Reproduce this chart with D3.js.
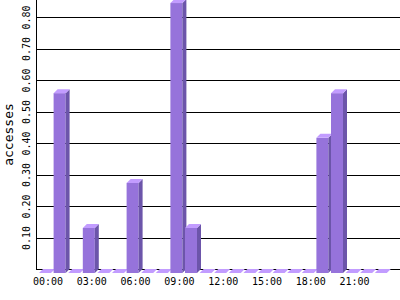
<!DOCTYPE html>
<html>
<head>
<meta charset="utf-8">
<script src="https://cdn.jsdelivr.net/npm/d3@7"></script>
<style>
  body { margin: 0; background: #fff; }
  text { font-family: "DejaVu Sans Mono", monospace; fill: #000; }
</style>
</head>
<body>
<div id="chart"></div>
<script>
// accesses per hour of day
const hours = d3.range(24).map(h => (h < 10 ? '0' : '') + h + ':00');
const accesses = [0, 0.571, 0, 0.143, 0, 0, 0.286, 0, 0, 0.857, 0.143, 0,
                  0, 0, 0, 0, 0, 0, 0, 0.429, 0.571, 0, 0, 0];
const yTicks = [0.1, 0.2, 0.3, 0.4, 0.5, 0.6, 0.7, 0.8];
const xTicks = ['00:00', '03:00', '06:00', '09:00', '12:00', '15:00', '18:00', '21:00'];

const width = 400, height = 300;
const left = 36, base = 269, depth = 4, barW = 12;

const svg = d3.select('#chart').append('svg')
    .attr('width', width)
    .attr('height', height);

const x = d3.scaleBand()
    .domain(hours)
    .range([39, 39 + 24 * 14.6]);

const y = d3.scaleLinear()
    .domain([0, 0.8])
    .range([base, 17]);

// gridlines + y tick labels
const yAxis = svg.append('g')
    .attr('transform', 'translate(' + left + ',0)')
    .call(d3.axisLeft(y)
        .tickValues(yTicks)
        .tickSize(-(width - left))
        .tickFormat(d3.format('.2f')));
yAxis.select('.domain').remove();
yAxis.selectAll('line').attr('stroke', '#000').attr('shape-rendering', 'crispEdges');
yAxis.selectAll('text')
    .attr('x', null).attr('dy', null)
    .attr('transform', 'translate(-6,0) rotate(-90)')
    .attr('text-anchor', 'middle')
    .style('font-size', '10px');

// axis lines
svg.append('line')
    .attr('x1', left + 0.5).attr('x2', left + 0.5)
    .attr('y1', 0).attr('y2', base + 0.5)
    .attr('stroke', '#000');
svg.append('line')
    .attr('x1', left).attr('x2', width)
    .attr('y1', base + 0.5).attr('y2', base + 0.5)
    .attr('stroke', '#000');

svg.append('text')
    .attr('transform', 'translate(13,' + (base / 2) + ') rotate(-90)')
    .attr('text-anchor', 'middle')
    .style('font-size', '13px')
    .text('accesses');

// 3d bars
const bars = svg.append('g');
hours.forEach((h, i) => {
  const x0 = x(h);
  const yb = base + depth;
  const yt = y(accesses[i]) + depth;
  const g = bars.append('g');
  if (yb - yt > 0.5) {
    g.append('rect')
        .attr('x', x0).attr('y', yt)
        .attr('width', barW).attr('height', yb - yt)
        .attr('fill', '#9673db');
    g.append('path')
        .attr('d', 'M' + [x0 + barW, yt] + 'L' + [x0 + barW + depth, yt - depth] +
             'L' + [x0 + barW + depth, yb - depth] + 'L' + [x0 + barW, yb] + 'Z')
        .attr('fill', '#6c55aa');
  }
  g.append('path')
      .attr('d', 'M' + [x0, yt] + 'L' + [x0 + barW, yt] + 'L' + [x0 + barW + depth, yt - depth] +
           'L' + [x0 + depth, yt - depth] + 'Z')
      .attr('fill', '#c29cff');
});

// x labels
svg.append('g').selectAll('text')
    .data(xTicks)
    .join('text')
    .attr('x', d => x(d) + 9)
    .attr('y', 285)
    .attr('text-anchor', 'middle')
    .style('font-size', '10px')
    .text(d => d);
</script>
</body>
</html>
